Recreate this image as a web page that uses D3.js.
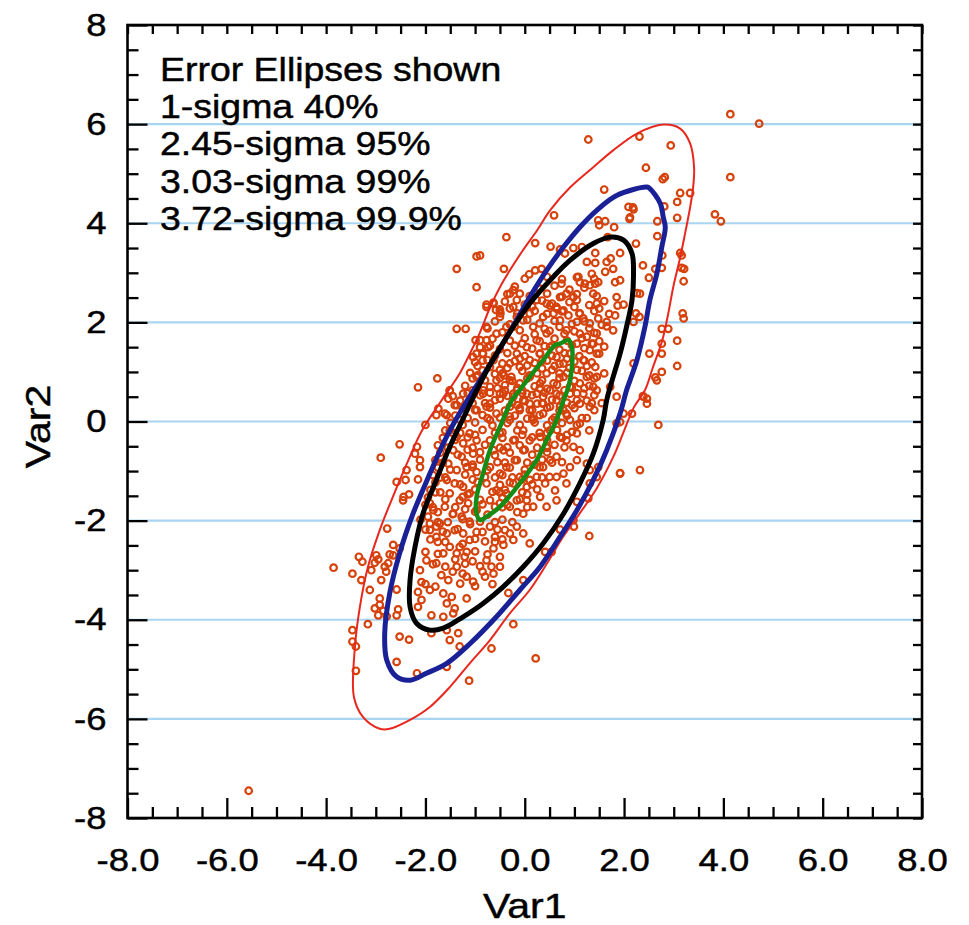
<!DOCTYPE html>
<html><head><meta charset="utf-8">
<script src="https://cdn.jsdelivr.net/npm/d3@7"></script>
<style>body{margin:0;background:#fff} text{font-family:"Liberation Sans",Arial,Helvetica,sans-serif;fill:#000;stroke:#000;stroke-width:0.45px}</style>
</head><body><svg id="c" width="969" height="925"></svg>
<script>
const xTicks = [-8,-6,-4,-2,0,2,4,6,8];
const yTicks = [-8,-6,-4,-2,0,2,4,6,8];
const minorTicks = d3.range(-8,8.01,0.5);
const gridValues = [-6,-4,-2,0,2,4,6];
const legendLines = ["Error Ellipses shown","1-sigma 40%","2.45-sigma 95%","3.03-sigma 99%","3.72-sigma 99.9%"];
const xTitle = "Var1", yTitle = "Var2";

const outerPoints = [[-5.56,-7.45],[4.14,6.2],[4.72,6.01],[2.31,5.75],[2.94,5.57],[2.44,5.12],[2.78,4.89],[2.82,4.93],[4.14,4.93],[3.13,4.61],[3.33,4.61],[3.07,4.43],[2.81,4.34],[2.18,4.32],[2.19,4.28],[2.12,4.12],[3.07,4.11],[2.67,4.04],[3.83,4.18],[3.95,4.04],[2.67,3.74],[2.24,3.59],[3.13,3.40],[3.16,3.35],[2.77,3.35],[2.38,3.15],[2.76,3.10],[2.63,3.08],[3.16,3.10],[3.21,3.08],[2.50,2.90],[3.20,2.83],[2.26,2.59],[2.32,2.58],[3.18,2.18],[3.20,2.08],[2.24,2.18],[2.31,2.11],[2.19,2.01],[2.76,1.87],[2.89,1.87],[3.07,1.63],[2.76,1.57],[2.76,1.37],[2.51,1.37],[2.19,1.17],[3.07,1.12],[2.76,1.00],[2.63,0.89],[2.38,0.51],[2.46,0.46],
[-0.97,3.33],[-1.37,3.08],[-0.97,2.71],[-1.37,1.87],[-1.19,1.87],[-0.99,1.64],[-1.04,1.30],[-0.97,1.37],[-1.76,0.87],[-2.15,0.69],[-1.51,0.62],[-1.45,0.51],
[1.28,5.69],[1.60,4.68],[0.59,4.16],[1.48,4.06],[1.62,4.04],[1.50,3.96],[1.80,3.92],[2.09,4.33],[2.11,4.09],[-0.37,3.72],[0.21,3.60],[0.52,3.53],[1.67,3.72],[0.71,3.47],[0.81,3.39],[0.98,3.50],[1.15,3.52],[-0.90,3.35],[-0.42,3.08],[0.09,2.97],[0.21,3.05],[0.34,3.08],[1.42,3.40],[1.25,3.22],[1.42,3.20],[1.65,3.22],[1.73,3.29],[1.92,3.40],[1.62,3.02],[1.78,3.08],[1.35,2.98],[1.08,2.92],[1.11,2.81],[1.21,2.78],[1.31,2.75],[1.42,2.78],[1.48,2.81],[1.82,2.81],[1.92,2.85],[0.74,2.78],[0.84,2.58],[0.98,2.51],[1.05,2.45],[1.38,2.58],[1.45,2.38],[1.85,2.51],[1.87,2.34],[1.99,2.36],[-0.23,2.65],[-0.10,2.58],[-0.77,2.36],[-0.63,2.38],[-0.50,2.26],[-0.49,2.18],[-0.58,2.25],[0.51,2.34],[0.64,2.31],[0.78,2.24],[0.88,2.14],[1.11,2.18],[1.18,2.08],[1.05,2.01],[1.31,1.98],[1.48,2.08],[1.65,2.01],[1.82,2.14],[1.78,1.84],[-0.90,1.64],[-0.84,1.37],[-0.74,1.50],[1.45,1.78],[1.38,1.57],[1.45,1.37],[1.42,1.10],[1.45,0.90],[-0.42,0.93],[-0.27,0.90],[-0.40,0.63],[-0.23,0.56],[-0.50,0.46]];

const densePoints = [[-0.03,2.04],[0.17,1.91],[0.37,2.11],[0.58,2.18],[0.71,2.04],[0.84,1.84],[0.44,1.78],[0.24,1.64],[0.04,1.50],[-0.16,1.37],[-0.30,1.17],[-0.10,1.10],[0.10,1.24],[0.31,1.37],[0.51,1.50],[0.64,1.30],[0.78,1.17],[0.91,1.37],[1.05,1.57],[1.11,1.77],[1.25,1.71],[1.31,1.44],[1.18,1.24],[1.05,1.04],[1.11,0.77],[1.25,0.90],[1.38,0.70],[0.78,0.90],[0.58,0.77],[0.44,0.97],[0.31,0.77],[0.10,0.90],[-0.10,0.77],[-0.30,0.83],[-0.50,1.04],[-0.63,1.24],[-0.70,0.70],[-0.50,0.56],[-0.23,0.50],[0.04,0.56],[0.37,0.50],[0.64,0.56],[0.91,0.56],[-0.77,1.64],[-0.57,1.77],[-0.37,1.91],[-0.16,2.11],[0.04,2.31],[-0.23,2.31],[0.24,2.45],[0.44,2.38],[0.71,2.51],[0.10,2.18],[-0.50,2.11],[-0.77,1.91],
[-0.63,2.40],[-0.77,2.31],[-0.30,2.58],[-0.16,2.45],[-0.70,1.10],[-0.57,0.83],[-0.84,0.63],[-1.04,0.56],[-0.97,0.90],
[-1.74,0.26],[-1.51,0.63],[-1.54,0.46],[-1.61,0.16],[-1.37,0.33],[-1.24,0.56],[-1.11,0.43],[-0.97,0.23],[-0.84,0.56],[-0.70,0.36],[-0.57,0.16],[-0.43,0.56],[-0.30,0.30],[-0.16,0.63],[-0.03,0.43],[0.10,0.23],[0.24,0.56],[0.37,0.36],[0.51,0.63],[0.64,0.43],[0.78,0.23],[0.91,0.70],[1.05,0.43],[1.18,0.56],[1.31,0.30],[1.45,0.63],[1.72,0.70],[1.85,0.50],[1.99,0.16],[2.16,0.16],[2.39,0.50],[2.46,0.36],[2.66,0.83],[2.69,-0.07],[1.92,-0.01],[1.92,-1.05],[2.32,-0.98],
[-1.78,0.13],[-1.57,0.13],[-1.41,0.33],[-2.0,-0.07],[-2.52,-0.46],[-2.9,-0.73],[-2.17,-0.51],[-2.21,-0.65],[-2.11,-0.78],[-2.11,-0.92],[-2.38,-0.98],[-2.40,-1.18],[-2.58,-1.22],[-2.15,-1.17],[-2.44,-1.52],[-2.33,-1.47],[-2.45,-1.59],[-1.91,-1.65],[-1.84,-1.79],[-1.95,-1.92],[-1.91,-2.06],[-1.78,-2.12],[-2.77,-2.16],[-2.65,-2.49],[-2.52,-2.56],[-2.65,-2.70],[-2.72,-2.68],[-2.99,-2.70],[-2.95,-2.78],[-2.75,-2.86],[-2.82,-2.93],[-2.79,-3.03],[-3.09,-3.0],[-3.02,-2.85],[-3.34,-2.73],[-3.27,-2.83],[-3.85,-2.95],[-3.47,-3.07],[-3.29,-3.20],[-3.12,-3.40],[-2.89,-3.20],[-2.92,-3.57],[-2.58,-3.39],[-3.02,-3.77],[-2.92,-3.70],[-2.85,-3.82],[-2.95,-3.91],[-2.78,-3.93],[-2.58,-3.91],[-2.55,-3.79],[-3.16,-4.09],[-3.47,-4.21],[-3.47,-4.44],[-3.40,-4.54],[-2.52,-4.34],[-2.33,-4.40],[-2.58,-4.85],[-3.40,-5.03],[-2.17,-5.08],[-1.57,-4.95],[-1.12,-5.23],
[-2.11,-3.0],[-2.08,-3.24],[-2.15,-3.44],[-2.08,-3.60],[-1.91,-3.40],[-1.98,-2.80],[-1.78,-2.86],[-1.68,-3.10],[-1.54,-3.20],[-1.64,-3.47],[-1.47,-3.54],[-1.57,-3.67],[-1.41,-3.77],[-1.37,-2.93],[-1.37,-2.66],[-1.21,-2.73],[-1.17,-3.13],[-1.04,-3.23],[-1.17,-3.57],[-1.88,-3.91],[-1.64,-3.94],[-1.44,-3.87],[-1.57,-4.21],[-1.34,-4.27],[-1.51,-4.41],[-1.31,-4.54],[-1.88,-4.27],[-2.15,-3.74],
[-1.51,-0.18],[-1.37,-0.31],[-1.24,-0.44],[-1.11,-0.24],[-0.97,-0.38],[-1.44,-0.58],[-1.27,-0.71],[-1.04,-0.65],[-1.54,-0.85],[-1.37,-0.98],[-1.17,-0.92],[-0.97,-1.02],[-1.57,-1.18],[-1.41,-1.25],[-1.24,-1.32],[-1.11,-1.45],[-1.51,-1.45],[-1.31,-1.59],[-1.14,-1.65],[-0.97,-1.79],[-1.61,-1.72],[-1.44,-1.86],[-1.27,-1.92],[-1.11,-2.02],[-1.71,-2.06],[-1.91,-2.19],[-1.78,-2.33],[-1.57,-2.26],[-1.41,-2.19],[-1.24,-2.26],[-1.11,-2.39],[-0.97,-2.23],[-1.51,-2.53],[-1.31,-2.53],[-1.17,-2.63],[-1.64,-2.66],
[1.92,-1.04],[1.28,-1.55],[1.30,-2.31],[0.98,-1.99],[0.99,-2.12],[0.71,-2.18],[1.05,-1.62],[1.48,-0.92],[1.45,-1.12],[1.31,-1.25],[1.25,-0.85],[1.31,-0.98],[1.85,-0.04],[0.41,-2.63],[0.54,-2.63],[-0.03,-3.20],[-0.33,-3.46],[-0.23,-4.09],[-0.67,-4.58],[0.22,-4.78],[-0.70,-2.12],[-0.60,-2.33],[-0.43,-2.49],[-0.63,-2.56],[-0.50,-2.73],[-0.77,-2.80],[-0.30,-2.26],[-0.16,-2.12],[-0.03,-2.26],[0.10,-2.46],[-0.40,-2.19],[-0.23,-2.39],[-0.67,-2.93],[-0.50,-2.93],[-0.80,-3.13],[-0.63,-3.07],[0.44,-1.72],[0.64,-1.59],[0.31,-1.52],[0.17,-1.72],[0.04,-1.59],[0.41,-1.25],[0.61,-1.39],[0.84,-1.25],[0.78,-1.05],[0.91,-0.92],[0.64,-1.12],[1.05,-0.78],[1.11,-0.58],[0.98,-0.51],[0.84,-0.38],[0.71,-0.31],[1.05,-0.24],[1.11,-0.04],[0.91,0.03],[0.84,0.16],[0.71,0.30],[1.11,0.36],
[-0.77,-1.25],[-0.57,-1.39],[-0.70,-1.59],[-0.50,-1.65],[-0.37,-1.45],[-0.23,-1.25],[-0.10,-1.12],[0.04,-1.32],[-0.30,-1.72],[-0.16,-1.59],[-0.03,-1.86],[0.10,-1.18],[0.24,-1.12],[0.37,-0.92],[0.51,-0.78],[0.64,-0.71],[0.44,-0.51],[0.31,-0.31],[0.10,-0.38],[-0.03,-0.58],[-0.16,-0.78],[-0.37,-0.92],[-0.50,-1.05],[-0.70,-0.92],[-0.63,-0.58],[-0.43,-0.58],[-0.23,-0.38],[-0.03,-0.18],[0.17,0.03],[0.37,0.16],[0.51,0.30],[0.64,0.03],[0.51,-0.18],[-0.50,-0.24],[-0.70,0.03],[-0.30,0.10],[-0.10,0.23],[0.10,0.36],[-0.77,0.30]];

const corePoints = [[-0.2,2.72],[0.3,2.68],[0.6,2.74],[0.9,2.66],[1.2,2.7],
[-0.4,2.42],[0.0,2.36],[0.35,2.44],[0.55,2.38],[0.9,2.41],[1.3,2.35],[1.6,2.43],
[-0.6,2.02],[-0.3,1.96],[0.05,2.05],[0.3,1.98],[0.6,2.03],[0.95,1.97],[1.2,2.02],[1.55,1.95],
[-0.45,1.8],[-0.1,1.84],[0.2,1.76],[0.5,1.83],[0.8,1.77],[1.0,1.82],[1.4,1.79],
[-0.9,1.5],[-0.5,1.46],[-0.2,1.53],[0.15,1.47],[0.4,1.52],[0.7,1.45],[0.95,1.54],[1.2,1.48],[1.6,1.51],
[-1.0,1.2],[-0.75,1.24],[-0.45,1.17],[-0.2,1.22],[0.2,1.18],[0.45,1.23],[0.7,1.16],[1.0,1.21],[1.35,1.19],
[-1.1,0.98],[-0.85,1.03],[-0.6,0.96],[-0.05,1.02],[0.25,0.97],[0.55,1.04],[0.85,0.98],[1.15,1.02],[1.6,0.97],
[-1.2,0.72],[-0.95,0.67],[-0.4,0.73],[-0.15,0.68],[0.2,0.71],[0.45,0.66],[0.65,0.74],[0.95,0.69],[1.3,0.72],
[-1.3,0.42],[-1.05,0.37],[-0.6,0.43],[-0.25,0.38],[0.0,0.41],[0.25,0.36],[0.55,0.44],[0.85,0.38],[1.25,0.42],[1.55,0.37],
[-1.4,0.12],[-1.15,0.07],[-0.85,0.13],[-0.5,0.08],[-0.2,0.12],[0.05,0.06],[0.3,0.13],[0.6,0.08],[0.85,0.12],[1.25,0.07],
[-1.6,-0.18],[-1.3,-0.23],[-0.85,-0.17],[-0.45,-0.22],[-0.15,-0.18],[0.3,-0.23],[0.65,-0.17],[0.95,-0.21],[1.3,-0.18],
[-1.75,-0.48],[-1.05,-0.53],[-0.8,-0.47],[-0.35,-0.52],[-0.1,-0.48],[0.25,-0.53],[0.6,-0.47],[0.8,-0.52],
[-1.8,-0.78],[-1.2,-0.83],[-0.9,-0.77],[-0.55,-0.82],[-0.2,-0.78],[0.05,-0.83],[0.35,-0.77],[0.75,-0.82],
[-1.85,-1.08],[-1.6,-1.13],[-1.2,-1.07],[-0.8,-1.12],[-0.45,-1.08],[-0.25,-1.13],[0.0,-1.07],[0.5,-1.12],
[-1.9,-1.38],[-1.7,-1.43],[-1.0,-1.37],[-0.65,-1.42],[-0.4,-1.38],[-0.05,-1.43],[0.25,-1.37],
[-2.0,-1.68],[-1.4,-1.73],[-0.85,-1.67],[-0.6,-1.72],[-0.35,-1.68],[0.05,-1.73],
[-2.1,-1.98],[-1.55,-2.03],[-1.25,-1.97],[-0.9,-2.02],[-0.45,-1.98],[-0.25,-2.03],
[-1.9,-2.38],[-1.6,-2.43],[-1.0,-2.37],[-0.8,-2.42],[-0.45,-2.38],
[-1.85,-2.88],[-1.6,-2.93],[-1.2,-2.87],[-0.9,-2.92],
[-2.0,-3.28],[-1.8,-3.33],[-1.3,-3.27],[-1.0,-3.32],[-0.65,-3.28]];

const corePoints2 = [[-0.35,2.57],[0.1,2.53],[0.45,2.58],[0.75,2.52],[1.05,2.57],[1.45,2.53],
[-0.5,2.22],[-0.15,2.18],[0.2,2.23],[0.45,2.17],[0.75,2.22],[1.1,2.18],[1.4,2.23],[1.7,2.17],
[-0.65,1.67],[-0.3,1.63],[0.0,1.68],[0.3,1.62],[0.6,1.67],[0.85,1.63],[1.15,1.68],[1.5,1.62],
[-0.85,1.37],[-0.6,1.33],[-0.35,1.38],[0.0,1.32],[0.3,1.37],[0.55,1.33],[0.8,1.38],[1.1,1.32],[1.5,1.37],
[-0.95,1.12],[-0.35,1.08],[0.05,1.13],[0.35,1.07],[0.6,1.12],[0.9,1.08],[1.25,1.12],
[-1.05,0.87],[-0.8,0.83],[-0.5,0.88],[-0.25,0.82],[0.05,0.87],[0.35,0.83],[0.7,0.88],[1.0,0.82],[1.4,0.87],
[-1.15,0.57],[-0.9,0.53],[-0.7,0.58],[-0.35,0.52],[-0.05,0.57],[0.15,0.53],[0.4,0.58],[0.7,0.52],[1.05,0.57],[1.4,0.53],
[-1.25,0.27],[-1.0,0.23],[-0.7,0.28],[-0.4,0.22],[-0.1,0.27],[0.15,0.23],[0.45,0.28],[0.7,0.22],[1.0,0.27],[1.4,0.23],
[-1.5,-0.03],[-1.25,-0.07],[-1.0,-0.02],[-0.65,-0.08],[-0.35,-0.03],[-0.1,-0.07],[0.2,-0.02],[0.45,-0.08],[0.75,-0.03],[1.05,-0.07],
[-1.65,-0.33],[-1.4,-0.37],[-1.15,-0.32],[-0.7,-0.38],[-0.45,-0.33],[-0.2,-0.37],[0.15,-0.32],[0.45,-0.38],[0.75,-0.33],
[-1.7,-0.63],[-1.35,-0.67],[-0.9,-0.62],[-0.6,-0.68],[-0.3,-0.63],[0.15,-0.67],[0.45,-0.62],
[-1.75,-0.93],[-1.5,-0.97],[-1.05,-0.92],[-0.75,-0.98],[-0.3,-0.93],[0.0,-0.97],[0.3,-0.92],
[-1.8,-1.23],[-1.3,-1.27],[-0.95,-1.22],[-0.5,-1.28],[-0.3,-1.23],[0.15,-1.27],
[-1.95,-1.53],[-1.6,-1.57],[-1.25,-1.52],[-0.9,-1.58],[-0.45,-1.53],[-0.1,-1.57],
[-1.75,-1.83],[-1.45,-1.87],[-1.0,-1.82],[-0.75,-1.88],[-0.15,-1.83],
[-2.0,-2.18],[-1.65,-2.22],[-1.35,-2.17],[-0.85,-2.23],[-0.55,-2.18],
[-2.0,-2.63],[-1.75,-2.67],[-1.0,-2.62],[-0.75,-2.68],
[-1.45,-3.03],[-1.25,-3.07],[-0.85,-3.03]];

const corePoints3 = [[0.0,2.88],[0.45,2.92],[0.75,2.87],[1.05,2.91],[1.4,2.88],
[-0.3,2.28],[0.15,2.32],[0.65,2.27],[1.0,2.31],[1.5,2.28],
[-0.75,1.88],[-0.2,1.92],[0.4,1.87],[0.7,1.91],[1.3,1.88],[1.65,1.92],
[-0.7,1.53],[-0.05,1.57],[0.55,1.53],[1.35,1.57],
[-0.85,1.23],[-0.1,1.27],[0.35,1.23],[0.85,1.27],[1.2,1.23],
[-0.95,0.93],[-0.45,0.97],[0.1,0.93],[0.7,0.97],[1.3,0.93],
[-1.05,0.63],[-0.55,0.67],[-0.05,0.63],[0.3,0.67],[0.8,0.63],[1.2,0.67],
[-1.2,0.33],[-0.8,0.37],[-0.15,0.33],[0.35,0.37],[0.95,0.33],[1.35,0.37],
[-1.3,0.03],[-0.75,0.07],[-0.3,0.03],[0.15,0.07],[0.55,0.03],[1.15,0.07],
[-1.45,-0.23],[-1.0,-0.27],[-0.6,-0.23],[-0.05,-0.27],[0.45,-0.23],[0.85,-0.27],
[-1.55,-0.53],[-1.15,-0.57],[-0.5,-0.53],[0.0,-0.57],[0.45,-0.53],
[-1.65,-0.83],[-1.05,-0.87],[-0.4,-0.83],[0.2,-0.87],[0.55,-0.83],
[-1.7,-1.13],[-1.05,-1.17],[-0.6,-1.13],[-0.05,-1.17],[0.35,-1.13],
[-1.8,-1.43],[-1.15,-1.47],[-0.5,-1.43],[0.05,-1.47],
[-1.85,-1.73],[-1.2,-1.77],[-0.45,-1.73],
[-1.75,-2.03],[-1.1,-2.07],[-0.6,-2.03],
[-1.75,-2.43],[-1.25,-2.47],[-0.6,-2.43],
[-1.4,-2.78],[-1.05,-2.82]];

const ellipse999 = [[2.79,5.99],[3.13,5.91],[3.33,5.61],[3.41,5.13],[3.39,4.72],[3.33,4.32],[3.23,3.80],[3.13,3.31],[2.99,2.71],[2.89,2.18],[2.77,1.64],[2.58,1.09],[2.42,0.63],[2.20,0.29],[1.98,-0.24],[1.78,-0.72],[1.46,-1.33],[1.11,-1.85],[0.77,-2.33],[0.45,-2.86],[0.10,-3.40],[-0.30,-3.87],[-0.70,-4.41],[-1.10,-4.87],[-1.51,-5.36],[-1.91,-5.76],[-2.31,-6.02],[-2.72,-6.20],[-2.92,-6.20],[-3.26,-5.96],[-3.44,-5.56],[-3.42,-4.55],[-3.32,-3.74],[-3.16,-2.94],[-2.92,-2.19],[-2.66,-1.53],[-2.37,-0.84],[-2.08,-0.20],[-1.68,0.42],[-1.31,0.97],[-1.10,1.38],[-0.90,1.80],[-0.70,2.30],[-0.50,2.71],[-0.30,3.05],[-0.04,3.45],[0.25,3.86],[0.51,4.26],[0.91,4.72],[1.38,5.13],[1.78,5.47],[2.26,5.81]];
const ellipse99 = [[2.46,4.73],[2.52,4.70],[2.73,4.40],[2.79,4.12],[2.83,3.92],[2.76,3.52],[2.66,2.98],[2.52,2.45],[2.42,1.91],[2.26,1.24],[2.12,0.83],[2.05,0.63],[1.92,0.16],[1.65,-0.58],[1.38,-1.18],[1.05,-1.79],[0.71,-2.33],[0.31,-2.93],[-0.10,-3.40],[-0.57,-3.94],[-1.10,-4.48],[-1.57,-4.88],[-1.98,-5.08],[-2.31,-5.22],[-2.58,-5.15],[-2.78,-4.81],[-2.82,-4.27],[-2.72,-3.47],[-2.52,-2.66],[-2.25,-1.86],[-1.91,-1.05],[-1.62,-0.40],[-1.38,0.05],[-1.08,0.55],[-0.78,1.02],[-0.50,1.47],[-0.20,1.98],[0.10,2.51],[0.44,3.05],[0.78,3.52],[1.11,3.92],[1.45,4.26],[1.85,4.56]];
const ellipse95 = [[1.72,3.72],[1.99,3.66],[2.16,3.39],[2.19,2.98],[2.16,2.45],[2.05,1.91],[1.92,1.37],[1.78,0.90],[1.65,0.43],[1.58,0.03],[1.38,-0.65],[1.11,-1.25],[0.78,-1.86],[0.37,-2.46],[-0.03,-2.93],[-0.43,-3.33],[-0.84,-3.67],[-1.24,-3.94],[-1.64,-4.17],[-1.91,-4.21],[-2.18,-4.07],[-2.31,-3.74],[-2.31,-3.20],[-2.21,-2.53],[-2.05,-1.86],[-1.78,-1.18],[-1.51,-0.51],[-1.27,0.0],[-1.03,0.50],[-0.78,1.0],[-0.50,1.48],[-0.23,1.91],[0.10,2.38],[0.51,2.85],[0.91,3.25],[1.38,3.59]];
const ellipse40 = [[0.71,1.57],[0.88,1.64],[0.95,1.50],[0.95,1.10],[0.88,0.70],[0.78,0.43],[0.64,0.03],[0.44,-0.38],[0.24,-0.78],[-0.10,-1.25],[-0.50,-1.72],[-0.77,-1.92],[-0.90,-1.99],[-0.97,-1.86],[-0.97,-1.52],[-0.84,-1.05],[-0.70,-0.58],[-0.50,-0.11],[-0.26,0.43],[-0.16,0.56],[0.10,0.90],[0.37,1.24],[0.61,1.54]];

const ellipses = [
  {pts: ellipse999, color: "#e8281e", width: 2},
  {pts: ellipse99, color: "#1a2196", width: 5},
  {pts: ellipse95, color: "#000000", width: 5},
  {pts: ellipse40, color: "#168c16", width: 4.5}
];

const svg = d3.select("#c");
const L = 127.5, R = 922, T = 25, B = 818;
const x = d3.scaleLinear().domain([-8,8]).range([L,R]);
const y = d3.scaleLinear().domain([-8,8]).range([B,T]);
const SX = 1.14;

// grid
svg.append("g").selectAll("line").data(gridValues).join("line")
  .attr("x1", L).attr("x2", R).attr("y1", d=>y(d)).attr("y2", d=>y(d))
  .attr("stroke", "#a9d5f1").attr("stroke-width", 2.2);

// points
const allPts = outerPoints.concat(densePoints, corePoints, corePoints2, corePoints3);
svg.append("g").selectAll("circle").data(allPts).join("circle")
  .attr("cx", d=>x(d[0])).attr("cy", d=>y(d[1])).attr("r", 3.3)
  .attr("fill", "none").attr("stroke", "#d6420c").attr("stroke-width", 2.2);

// ellipses
const line = d3.line().x(d=>x(d[0])).y(d=>y(d[1])).curve(d3.curveCatmullRomClosed.alpha(0.5));
svg.append("g").selectAll("path").data(ellipses).join("path")
  .attr("d", d=>line(d.pts)).attr("fill","none")
  .attr("stroke", d=>d.color).attr("stroke-width", d=>d.width)
  .attr("stroke-linejoin","round");

// axes
const minorOnly = minorTicks.filter(v => Math.abs(v % 2) > 1e-9);
function clean(g){ g.select(".domain").remove(); g.selectAll("line").attr("stroke","#000").attr("stroke-width",2.3); }

svg.append("g").attr("transform",`translate(0,${B})`)
  .call(d3.axisBottom(x).tickValues(minorOnly).tickSize(-11).tickFormat(""))
  .call(clean).selectAll("text").remove();
const gxb = svg.append("g").attr("transform",`translate(0,${B})`)
  .call(d3.axisBottom(x).tickValues(xTicks).tickSize(-20).tickPadding(30).tickFormat(d=>d.toFixed(1)))
  .call(clean);
gxb.selectAll("text").attr("font-size",32).attr("font-family","Liberation Sans, Arial, sans-serif")
  .attr("fill","#000").attr("transform",`scale(${SX},1)`);

svg.append("g").attr("transform",`translate(${L},0)`)
  .call(d3.axisLeft(y).tickValues(minorOnly).tickSize(-11).tickFormat(""))
  .call(clean);
const gyl = svg.append("g").attr("transform",`translate(${L},0)`)
  .call(d3.axisLeft(y).tickValues(yTicks).tickSize(-20).tickPadding(0).tickFormat(d=>String(d)))
  .call(clean);
gyl.selectAll("text").attr("x", -21/SX).attr("font-size",32).attr("font-family","Liberation Sans, Arial, sans-serif")
  .attr("fill","#000").attr("transform",`scale(${SX},1)`);

svg.append("g").attr("transform",`translate(0,${T})`)
  .call(d3.axisTop(x).tickValues(minorTicks).tickSize(-9).tickFormat(""))
  .call(clean);
svg.append("g").attr("transform",`translate(${R},0)`)
  .call(d3.axisRight(y).tickValues(minorTicks).tickSize(-9).tickFormat(""))
  .call(clean);

// frame
svg.append("rect").attr("x",L).attr("y",T).attr("width",R-L).attr("height",B-T)
  .attr("fill","none").attr("stroke","#000").attr("stroke-width",2.6);

// titles
svg.append("text").attr("transform",`translate(${(L+R)/2},918) scale(${SX},1)`)
  .attr("text-anchor","middle").attr("font-size",36).text(xTitle);
svg.append("text").attr("transform",`translate(50,${(T+B)/2+5}) rotate(-90) scale(${SX},1)`)
  .attr("text-anchor","middle").attr("font-size",36).text(yTitle);

// legend
const lg = svg.append("g");
legendLines.forEach((t,i)=>{
  lg.append("text").attr("transform",`translate(160,${81 + i*37.2}) scale(1.135,1)`)
    .attr("font-size",33).text(t);
});
</script></body></html>
